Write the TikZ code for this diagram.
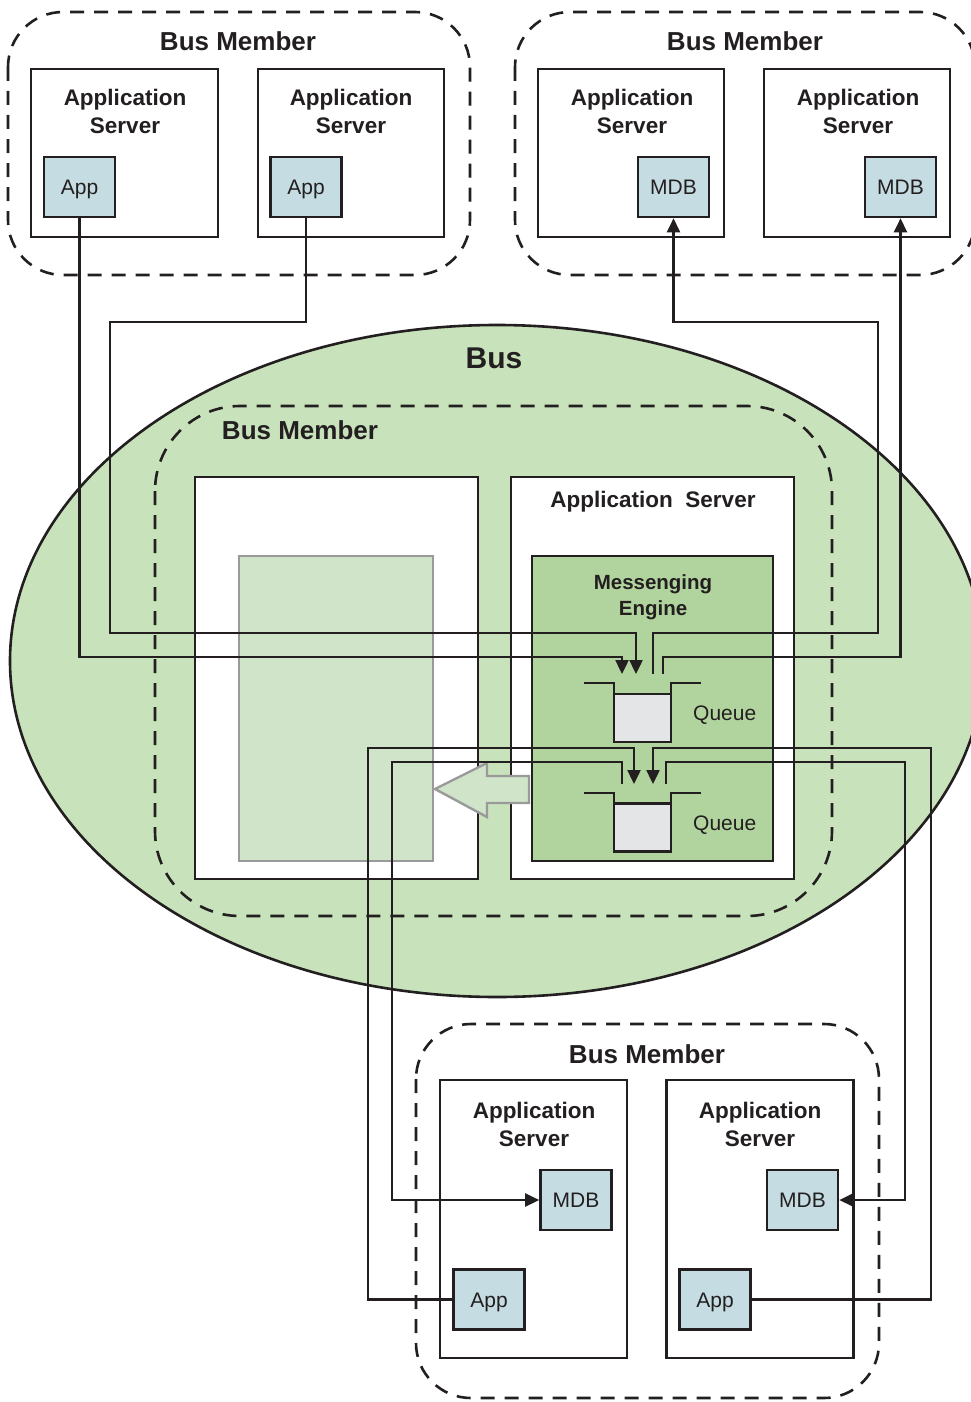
\documentclass[tikz,border=0pt]{standalone}
\usepackage{fontspec}
\setmainfont{Liberation Sans}
\usetikzlibrary{arrows.meta}
\definecolor{ink}{HTML}{231F20}
\definecolor{busgreen}{HTML}{C8E3BB}
\definecolor{megreen}{HTML}{B1D49E}
\definecolor{appblue}{HTML}{C5DDE2}
\definecolor{trgreen}{HTML}{D0E4C9}
\definecolor{trgray}{HTML}{9A9A9A}
\definecolor{qgray}{HTML}{E4E5E6}
\begin{document}
\begin{tikzpicture}[x=1pt,y=-1pt,
  every node/.style={text=ink},
  srvbox/.style={draw=ink,line width=2.6pt,fill=white,inner sep=0pt},
  member/.style={draw=ink,line width=2.6pt,dash pattern=on 14pt off 10pt,rounded corners=55pt},
  comp/.style={draw=ink,line width=2.6pt,fill=appblue,minimum width=71pt,minimum height=60pt,inner sep=0pt,font=\fontsize{21}{21}\selectfont,text height=15pt,text depth=0pt},
  title/.style={font=\bfseries\fontsize{26}{26}\selectfont,anchor=base,inner sep=0pt},
  srvtxt/.style={font=\bfseries\fontsize{22.5}{27}\selectfont,anchor=base,inner sep=0pt},
  qtxt/.style={font=\fontsize{21}{21}\selectfont,anchor=base west,inner sep=0pt},
  queuebox/.style={draw=ink,line width=2.8pt,fill=qgray,minimum width=57pt,minimum height=48pt,inner sep=0pt},
  lip/.style={draw=ink,line width=2.8pt},
  conn/.style={draw=ink,line width=2.4pt},
  arr/.style={conn,-{Triangle[length=14pt,width=13pt]}},
]
\useasboundingbox (0,0) rectangle (971,1402);
\clip (0,0) rectangle (971,1402);

% ---------- the Bus ----------
\draw[fill=busgreen,line width=2.6pt,draw=ink] (497,661) ellipse [x radius=487pt, y radius=336pt];
\node[font=\bfseries\fontsize{30}{30}\selectfont,anchor=base,inner sep=0pt] (bustitle) at (494,368) {Bus};

% ---------- dashed bus members ----------
\draw[member] (8,12) rectangle (470,275);
\draw[member] (515,12) rectangle (975,275);
\draw[member,rounded corners=85pt] (155,406) rectangle (832,916);
\draw[member] (416,1024) rectangle (879,1398);
\node[title] (bm1) at (238,51) {Bus Member};
\node[title] (bm2) at (745,51) {Bus Member};
\node[title] (bm3) at (300,439) {Bus Member};
\node[title] (bm4) at (647,1063) {Bus Member};

% ---------- top servers ----------
\node[srvbox,minimum width=187pt,minimum height=168pt] (s1) at (124.5,153) {};
\node[srvbox,minimum width=186pt,minimum height=168pt] (s2) at (351,153) {};
\node[srvbox,minimum width=186pt,minimum height=168pt] (s3) at (631,153) {};
\node[srvbox,minimum width=186pt,minimum height=168pt] (s4) at (857,153) {};
\foreach \n/\x in {s1/125,s2/351,s3/632,s4/858}{
  \node[srvtxt] (\n a) at (\x,106) {Application};
  \node[srvtxt] (\n b) at (\x,133) {Server};
}
\node[comp] (app1) at (79.5,187) {App};
\node[comp] (app2) at (306,187) {App};
\node[comp] (mdb1) at (673.5,187) {MDB};
\node[comp] (mdb2) at (900.5,187) {MDB};

% ---------- central member ----------
\node[srvbox,minimum width=283pt,minimum height=402pt] (left) at (336.5,678) {};
\node[srvbox,minimum width=283pt,minimum height=402pt] (mid) at (652.5,678) {};
\node[srvtxt] (midt) at (653,507) {Application\ \ Server};
\node[draw=ink,line width=2.6pt,fill=megreen,minimum width=241pt,minimum height=305pt,inner sep=0pt] (me) at (652.5,708.5) {};
\node[font=\bfseries\fontsize{20.5}{26}\selectfont,anchor=base,inner sep=0pt] (met1) at (653,589) {Messenging};
\node[font=\bfseries\fontsize{20.5}{26}\selectfont,anchor=base,inner sep=0pt] (met2) at (653,615) {Engine};
\node[draw=trgray,line width=2.4pt,fill=trgreen,minimum width=194pt,minimum height=305pt,inner sep=0pt] (ghost) at (336,708.5) {};
\draw[draw=trgray,line width=2.4pt,fill=trgreen,line join=miter]
  (435,789) -- (487,763) -- (487,776) -- (529,776) -- (529,803) -- (487,803) -- (487,817) -- cycle;

% queues
\node[queuebox] (q1) at (642.5,718) {};
\draw[lip] (584,683) -- (614,683) -- (614,742) -- (671,742) -- (671,683) -- (701,683);
\node[qtxt] (q1t) at (693,720) {Queue};
\node[queuebox] (q2) at (642.5,827.5) {};
\draw[lip] (584,793) -- (614,793) -- (614,851) -- (671,851) -- (671,793) -- (701,793);
\node[qtxt] (q2t) at (693,830) {Queue};

\coordinate (q1a) at (622,674);
\coordinate (q1b) at (636,674);
\coordinate (q1c) at (653,674);
\coordinate (q1d) at (663,674);
\coordinate (q2a) at (622,784);
\coordinate (q2b) at (634,784);
\coordinate (q2c) at (653,784);
\coordinate (q2d) at (666,784);

% ---------- bottom servers ----------
\node[srvbox,minimum width=187pt,minimum height=278pt] (s5) at (533.5,1219) {};
\node[srvbox,minimum width=187pt,minimum height=278pt] (s6) at (760,1219) {};
\foreach \n/\x in {s5/534,s6/760}{
  \node[srvtxt] (\n a) at (\x,1118) {Application};
  \node[srvtxt] (\n b) at (\x,1146) {Server};
}
\node[comp] (mdb3) at (576,1200) {MDB};
\node[comp] (mdb4) at (802.5,1200) {MDB};
\node[comp] (app3) at (489,1299.5) {App};
\node[comp] (app4) at (715,1299.5) {App};

% ---------- connectors ----------
\draw[arr] (app1.south) -- (79.5,657) -- (622,657) -- (q1a);
\draw[arr] (app2.south) -- (306,322) -- (110,322) -- (110,633) -- (636,633) -- (q1b);
\draw[arr] (q1c) -- (653,633) -- (878,633) -- (878,322) -- (673.5,322) -- (mdb1.south);
\draw[arr] (q1d) -- (663,657) -- (900.5,657) -- (mdb2.south);
\draw[arr] (app3.west) -- (368,1299.5) -- (368,748) -- (634,748) -- (q2b);
\draw[arr] (app4.east) -- (931,1299.5) -- (931,748) -- (653,748) -- (q2c);
\draw[arr] (q2a) -- (622,762) -- (392,762) -- (392,1200) -- (mdb3.west);
\draw[arr] (q2d) -- (666,762) -- (905,762) -- (905,1200) -- (mdb4.east);
\end{tikzpicture}
\end{document}
